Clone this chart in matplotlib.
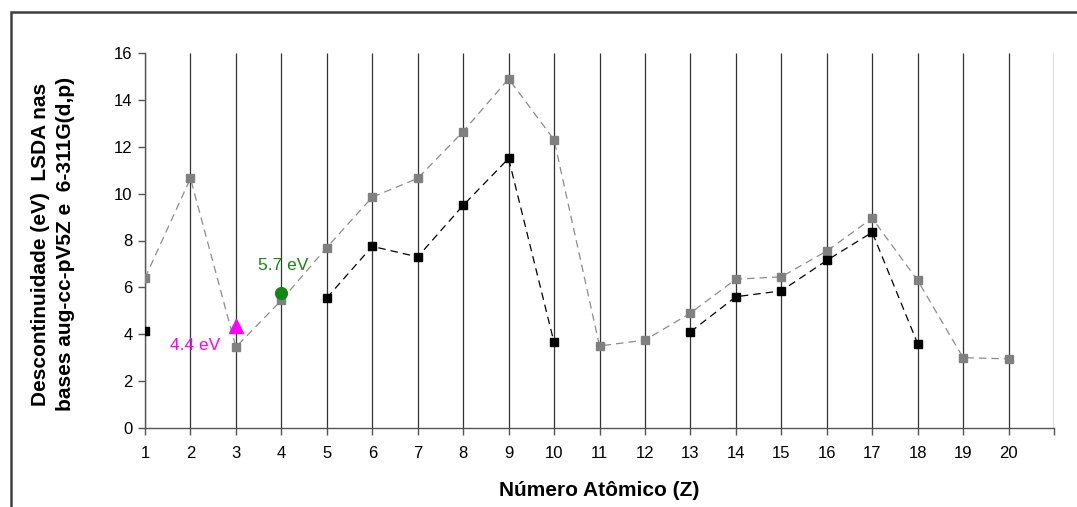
import numpy as np
import matplotlib.pyplot as plt
from matplotlib.patches import Rectangle

plt.rcParams['font.family'] = ['Liberation Sans', 'DejaVu Sans']

# numero atomico
z = np.arange(1, 21)
# base 6-311G(d,p) (cinza)
gray_vals = [6.4, 10.65, 3.45, 5.45, 7.7, 9.85, 10.65, 12.65, 14.9, 12.3,
             3.5, 3.75, 4.9, 6.35, 6.45, 7.55, 8.95, 6.3, 3.0, 2.95]
# base aug-cc-pV5Z (preto), nan onde nao ha valor
black_vals = [4.15, np.nan, np.nan, np.nan, 5.55, 7.75, 7.3, 9.5, 11.5, 3.65,
              np.nan, np.nan, 4.1, 5.6, 5.85, 7.15, 8.35, 3.6, np.nan, np.nan]
# pontos isolados
tri_z, tri_v = 3, 4.35
circ_z, circ_v = 4, 5.75

fig = plt.figure(figsize=(10.77, 5.07), dpi=100)
ax = fig.add_axes([145 / 1077, 79 / 507, 909 / 1077, 375 / 507])

# moldura externa
fig.patches.append(Rectangle((11 / 1077, -0.1), 1.2, 495 / 507 + 0.1,
                             transform=fig.transFigure, fill=False,
                             edgecolor='#404040', linewidth=1.8))

ax.vlines(z, 0, 16, colors='#333333', linewidth=0.9, zorder=1)
ax.axvline(21, color='#d9d9d9', linewidth=1.2, zorder=1)

ax.plot(z, gray_vals, linestyle=(0, (6, 4)), color='#8c8c8c', linewidth=0.9,
        marker='s', markersize=6.2, markerfacecolor='#808080',
        markeredgecolor='#808080', zorder=3)
ax.plot(z, black_vals, linestyle=(0, (6, 4)), color='black', linewidth=0.9,
        marker='s', markersize=6.2, markerfacecolor='black',
        markeredgecolor='black', zorder=4)
ax.plot([tri_z], [tri_v], marker='^', markersize=9.5, color='#ff00ff',
        linestyle='none', zorder=5)
ax.plot([circ_z], [circ_v], marker='o', markersize=8.5, color='#118811',
        linestyle='none', zorder=5)

ax.text(2.66, 3.5, '4.4 eV', color='#ff00ff', fontsize=12.5, ha='right', va='center')
ax.text(4.04, 6.95, '5.7 eV', color='#118811', fontsize=12.5, ha='center', va='center')

ax.set_xlim(1, 21)
ax.set_ylim(0, 16)
ax.set_yticks(np.arange(0, 17, 2))
ax.set_xticks(np.arange(1, 22))
ax.set_xticklabels([str(i) for i in z] + [''])

for s in ['top', 'right']:
    ax.spines[s].set_visible(False)
for s in ['left', 'bottom']:
    ax.spines[s].set_color('#555555')
    ax.spines[s].set_linewidth(1.0)
ax.tick_params(axis='both', direction='out', length=5, width=1, color='#555555',
               labelsize=12, pad=4)
ax.tick_params(axis='x', pad=8)

ax.set_xlabel('Número Atômico (Z)', fontsize=15, fontweight='bold', labelpad=14)
fig.text(53 / 1077, 1 - 244 / 507,
         'Descontinuidade (eV)  LSDA nas\nbases aug-cc-pV5Z e  6-311G(d,p)',
         rotation=90, ha='center', va='center', fontsize=15, fontweight='bold',
         linespacing=1.4)

fig.savefig('out.png', dpi=100)
